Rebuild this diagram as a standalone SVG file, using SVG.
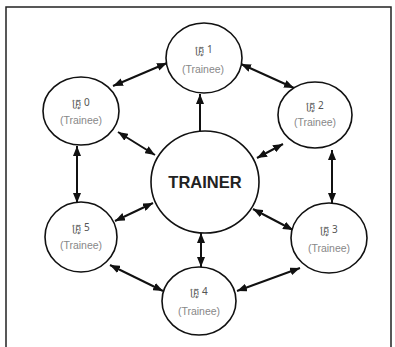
<svg xmlns="http://www.w3.org/2000/svg" width="395" height="347" viewBox="0 0 395 347">
<style>
.node{fill:#fff;stroke:#111;stroke-width:1.6}
.kh{font-family:"Noto Sans","DejaVu Sans",sans-serif;font-size:10px;fill:#555;text-anchor:middle}
.tr{font-family:"Liberation Sans",Arial,sans-serif;font-size:10.5px;fill:#888;text-anchor:middle}
.main{font-family:"Liberation Sans",Arial,sans-serif;font-size:16.5px;font-weight:bold;fill:#222;text-anchor:middle}
.c{stroke:#111;stroke-width:2;fill:none}
</style>
<defs>
<marker id="ah" viewBox="0 0 10 8" refX="10" refY="4" markerWidth="10" markerHeight="8" markerUnits="userSpaceOnUse" orient="auto-start-reverse">
<path d="M0,0 L10,4 L0,8 Z" fill="#111"/>
</marker>
</defs>
<rect width="395" height="347" fill="#fff"/>
<path d="M6,347 V7 H391 V347" fill="none" stroke="#222" stroke-width="1.5"/>
<g id="connectors">
<line class="c" x1="113" y1="86" x2="167" y2="63" marker-start="url(#ah)" marker-end="url(#ah)"/>
<line class="c" x1="241" y1="64" x2="294" y2="88" marker-start="url(#ah)" marker-end="url(#ah)"/>
<line class="c" x1="332" y1="150" x2="332" y2="203" marker-start="url(#ah)" marker-end="url(#ah)"/>
<line class="c" x1="300" y1="268" x2="237" y2="291" marker-start="url(#ah)" marker-end="url(#ah)"/>
<line class="c" x1="110" y1="265" x2="163" y2="291" marker-start="url(#ah)" marker-end="url(#ah)"/>
<line class="c" x1="77" y1="146" x2="77" y2="203" marker-start="url(#ah)" marker-end="url(#ah)"/>
<line class="c" x1="200" y1="131" x2="200" y2="94" marker-end="url(#ah)"/>
<line class="c" x1="118" y1="132" x2="155" y2="155" marker-start="url(#ah)" marker-end="url(#ah)"/>
<line class="c" x1="283" y1="144" x2="257" y2="158" marker-start="url(#ah)" marker-end="url(#ah)"/>
<line class="c" x1="115" y1="221" x2="153" y2="203" marker-start="url(#ah)" marker-end="url(#ah)"/>
<line class="c" x1="253" y1="209" x2="293" y2="230" marker-start="url(#ah)" marker-end="url(#ah)"/>
<line class="c" x1="201" y1="233" x2="201" y2="267" marker-start="url(#ah)" marker-end="url(#ah)"/>
</g>
<g id="trainer">
<ellipse class="node" cx="205" cy="182" rx="54" ry="51"/>
<text class="main" x="205" y="188">TRAINER</text>
</g>
<g id="node1">
<ellipse class="node" cx="204" cy="58" rx="38" ry="35"/>
<text class="kh" x="204" y="53">គ្រូ 1</text>
<text class="tr" x="203" y="73">(Trainee)</text>
</g>
<g id="node0">
<ellipse class="node" cx="81" cy="111" rx="38" ry="34"/>
<text class="kh" x="81" y="106">គ្រូ 0</text>
<text class="tr" x="81" y="124">(Trainee)</text>
</g>
<g id="node2">
<ellipse class="node" cx="315" cy="115" rx="37" ry="33"/>
<text class="kh" x="315" y="109">គ្រូ 2</text>
<text class="tr" x="315" y="126">(Trainee)</text>
</g>
<g id="node3">
<ellipse class="node" cx="329" cy="238" rx="38" ry="35"/>
<text class="kh" x="329" y="233">គ្រូ 3</text>
<text class="tr" x="329" y="252">(Trainee)</text>
</g>
<g id="node4">
<ellipse class="node" cx="199" cy="301" rx="37" ry="34"/>
<text class="kh" x="199" y="295">គ្រូ 4</text>
<text class="tr" x="199" y="315">(Trainee)</text>
</g>
<g id="node5">
<ellipse class="node" cx="81" cy="237" rx="36" ry="35"/>
<text class="kh" x="81" y="231">គ្រូ 5</text>
<text class="tr" x="81" y="249">(Trainee)</text>
</g>
</svg>
